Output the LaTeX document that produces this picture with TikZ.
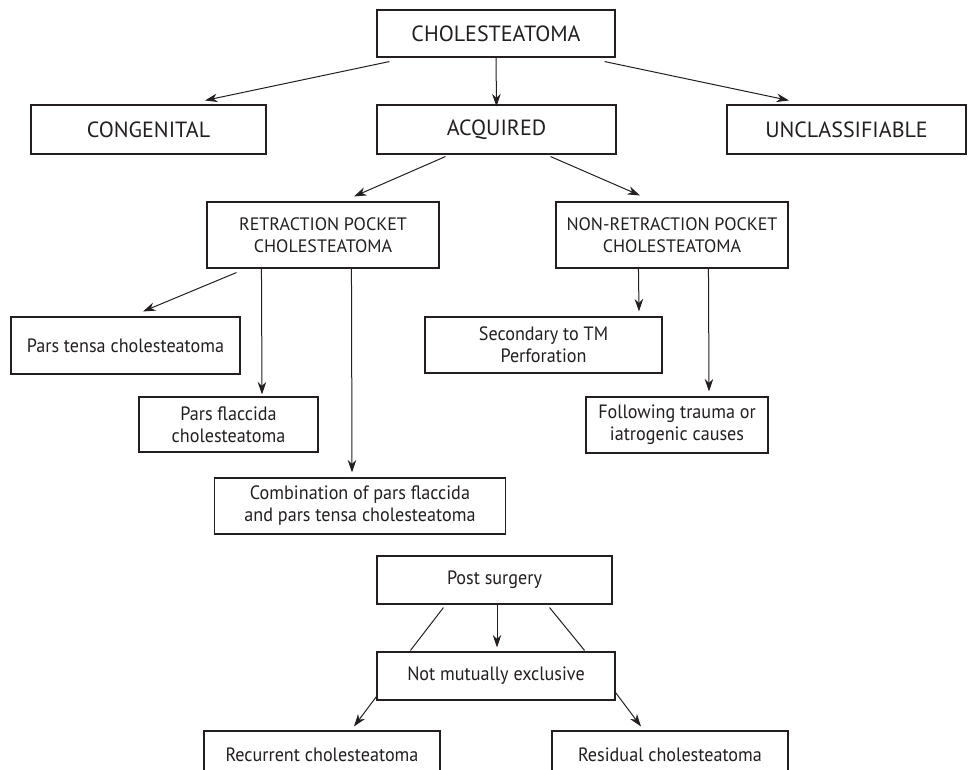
\documentclass[tikz,border=0pt]{standalone}
\usepackage{fontspec}
\setmainfont{PT Sans}
\newfontfamily\narrowfont{PT Sans}[FakeStretch=0.94]
\usetikzlibrary{arrows.meta}
\definecolor{ink}{RGB}{35,31,32}
\begin{document}
\begin{tikzpicture}[x=1pt,y=-1pt,
  box/.style={draw=ink,line width=1.1pt,text=ink,align=center,inner sep=0pt,anchor=center},
  arr/.style={draw=ink,line width=1pt,-{Stealth[length=12.5pt,width=8.5pt,inset=4pt]}},
  ln/.style={draw=ink,line width=1pt},
  big/.style={font=\fontsize{22}{26}\selectfont},
  mid/.style={font=\fontsize{18}{22}\selectfont},
  small/.style={font=\narrowfont\fontsize{19.3}{22}\selectfont}]
\clip (0,0) rectangle (968,770);
\fill[white] (0,0) rectangle (968,770);
% level 0
\node[box,big,minimum width=238pt,minimum height=47pt] (chol) at (496,33.5) {CHOLESTEATOMA};
% level 1
\node[box,big,minimum width=235pt,minimum height=49pt] (cong) at (148.5,129.5) {CONGENITAL};
\node[box,big,minimum width=239pt,minimum height=49pt] (acq) at (496.5,129.5) {ACQUIRED};
\node[box,big,minimum width=239pt,minimum height=49pt] (uncl) at (846.5,129.5) {UNCLASSIFIABLE};
% level 2
\node[box,mid,minimum width=232pt,minimum height=66pt] (ret) at (323,235) {RETRACTION POCKET\\CHOLESTEATOMA};
\node[box,mid,minimum width=232pt,minimum height=66pt] (nonret) at (672,235) {NON-RETRACTION POCKET\\CHOLESTEATOMA};
% level 3
\node[box,small,minimum width=229pt,minimum height=57pt] (ptensa) at (125.5,345.5) {Pars tensa cholesteatoma};
\node[box,small,minimum width=237pt,minimum height=56pt] (sec) at (543.5,345) {Secondary to TM\\Perforation};
\node[box,small,minimum width=179pt,minimum height=55pt] (pflac) at (228.5,424.5) {Pars flaccida\\cholesteatoma};
\node[box,small,minimum width=182pt,minimum height=56pt] (foll) at (677,425) {Following trauma or\\iatrogenic causes};
\node[box,small,minimum width=291pt,minimum height=56pt] (comb) at (360,506) {Combination of pars flaccida\\and pars tensa cholesteatoma};
% post surgery
\node[box,small,minimum width=235pt,minimum height=48pt] (post) at (494.5,580) {Post surgery};
\node[box,small,minimum width=238pt,minimum height=48pt] (notmut) at (496,676) {Not mutually exclusive};
\node[box,small,minimum width=236pt,minimum height=48pt] (rec) at (322,755) {Recurrent cholesteatoma};
\node[box,small,minimum width=236pt,minimum height=48pt] (res) at (670,755) {Residual cholesteatoma};
% connectors
\draw[arr] ([shift={(13,4)}]chol.south west) -- ([shift={(56.5,-4)}]cong.north);
\draw[arr] (chol.south) -- ([yshift=-2pt]acq.north);
\draw[arr] ([shift={(-11,4)}]chol.south east) -- ([shift={(-57.5,-4)}]uncl.north);
\draw[arr] ([shift={(69,2)}]acq.south west) -- ([shift={(31,-5)}]ret.north);
\draw[arr] ([shift={(-66,2)}]acq.south east) -- ([shift={(-32,-6)}]nonret.north);
\draw[arr] ([shift={(30,4)}]ret.south west) -- ([shift={(17.5,-5)}]ptensa.north);
\draw[arr] ([shift={(55,0)}]ret.south west) -- ([shift={(33.5,-2)}]pflac.north);
\draw[arr] ([shift={(145,0)}]ret.south west) -- ([shift={(-8,-5)}]comb.north);
\draw[arr] ([shift={(83,0)}]nonret.south west) -- ([shift={(95.5,-5)}]sec.north);
\draw[arr] ([shift={(153,0)}]nonret.south west) -- ([shift={(32,-5)}]foll.north);
\draw[arr] ([xshift=2.5pt]post.south) -- ([shift={(1,-4)}]notmut.north);
\draw[ln] ([shift={(67,3)}]post.south west) -- ([shift={(34,-1)}]notmut.north west);
\draw[ln] ([shift={(-63,3)}]post.south east) -- ([shift={(-31,-1)}]notmut.north east);
\draw[arr] ([shift={(0,-4)}]notmut.south west) -- ([shift={(32,-4)}]rec.north);
\draw[arr] ([shift={(0,-8)}]notmut.south east) -- ([shift={(-29,-4)}]res.north);
\end{tikzpicture}
\end{document}
